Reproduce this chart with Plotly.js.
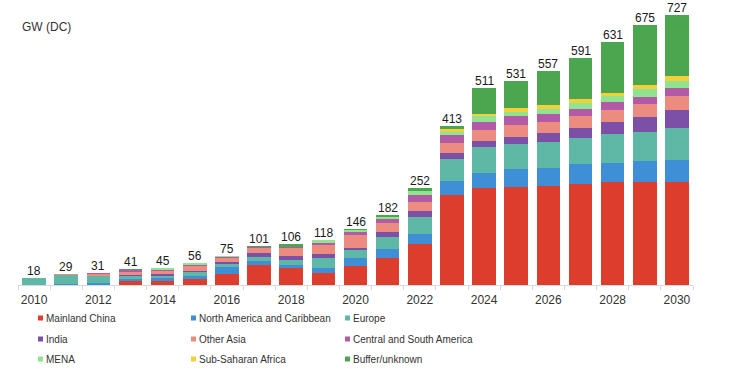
<!DOCTYPE html>
<html><head><meta charset="utf-8">
<script src="https://cdn.plot.ly/plotly-3.0.1.min.js"></script>
<style>html,body{margin:0;padding:0;background:#fff;}#chart{width:735px;height:369px;}</style>
</head><body><div id="chart"></div>
<script>
const years = [2010,2011,2012,2013,2014,2015,2016,2017,2018,2019,2020,2021,2022,2023,2024,2025,2026,2027,2028,2029,2030];
const tickYears = [2010,2012,2014,2016,2018,2020,2022,2024,2026,2028,2030];
const totals = [18,29,31,41,45,56,75,101,106,118,146,182,252,413,511,531,557,591,631,675,727];
const seriesNames = ["Mainland China","North America and Caribbean","Europe","India","Other Asia","Central and South America","MENA","Sub-Saharan Africa","Buffer/unknown"];
const seriesColors = ["#dc3d2d","#3e8fd6","#5fb8a5","#7d50a7","#ec8b80","#b35aa7","#8fe391","#f3cf3b","#4ba64f"];
const mainlandChina = [0,1,1,11,10,16,28,51,43,32,50,70,106,235,253,256,257,262,267,269,269];
const northAmerica  = [1,2,3,4,7,8,19,12,9,11,19,23,26,35,39,45,48,52,51,54,55];
const europe        = [17,23,19,9,7,9,8,10,13,26,22,33,44,58,66,65,68,69,74,76,84];
const india         = [0,0,1,3,4,3,5,10,11,11,4,11,17,16,17,20,23,26,33,39,48];
const otherAsia     = [0,2,5,8,9,13,11,12,19,23,35,23,23,26,29,30,29,30,30,33,35];
const centralSouthAmerica = [0,1,1,3,3,4,2,4,4,7,8,11,17,19,21,23,20,19,20,19,22];
const mena          = [0,0,1,2,4,3,2,1,1,6,5,6,11,9,14,11,13,16,16,19,17];
const subSaharanAfrica = [0,0,0,0,0,0,0,0,0,0,0,0,1,7,5,9,9,9,9,11,13];
const bufferUnknown = [0,0,0,1,1,0,0,1,6,2,3,5,7,8,67,72,90,108,131,155,160];
const seriesValues = [mainlandChina,northAmerica,europe,india,otherAsia,centralSouthAmerica,mena,subSaharanAfrica,bufferUnknown];

const L = 18, B = 84, W = 735, H = 369;
const plotBottomPx = H - B;

const traces = seriesValues.map((vals, i) => ({
  type: 'bar', x: years, y: vals, name: seriesNames[i],
  marker: {color: seriesColors[i], line: {width: 0}},
  showlegend: false, hoverinfo: 'skip'
}));

const stackTops = years.map((_, j) => seriesValues.reduce((s, arr) => s + arr[j], 0));
const annotations = years.map((yr, j) => ({
  x: yr, y: stackTops[j], xref: 'x', yref: 'y', text: String(totals[j]),
  showarrow: false, yanchor: 'bottom', yshift: -2,
  font: {family: 'Liberation Sans, Arial, sans-serif', size: 12, color: '#1a1a1a'}
}));

annotations.push({
  xref: 'paper', yref: 'paper', x: 0, y: 0, xanchor: 'left', yanchor: 'middle',
  xshift: 20 - L, yshift: plotBottomPx - 27, text: 'GW (DC)', showarrow: false,
  font: {family: 'Liberation Sans, Arial, sans-serif', size: 12, color: '#333'}
});

const legendColX = [45, 198, 352];
const legendRowY = [318, 339, 359];
const shapes = [];
seriesNames.forEach((nm, i) => {
  const col = i % 3, row = Math.floor(i / 3);
  const tx = legendColX[col], ty = legendRowY[row];
  annotations.push({
    xref: 'paper', yref: 'paper', x: 0, y: 0, xanchor: 'left', yanchor: 'middle', align: 'left',
    xshift: tx - L - 1, yshift: plotBottomPx - ty, text: nm, showarrow: false,
    font: {family: 'Liberation Sans, Arial, sans-serif', size: 10, color: '#333'}
  });
  shapes.push({
    type: 'rect', xref: 'paper', yref: 'paper',
    xsizemode: 'pixel', ysizemode: 'pixel', xanchor: 0, yanchor: 0,
    x0: tx - 7 - L, x1: tx - 2 - L,
    y0: plotBottomPx - (ty + 2.5), y1: plotBottomPx - (ty - 2.5),
    fillcolor: seriesColors[i], line: {width: 0}
  });
});

const layout = {
  width: W, height: H,
  margin: {l: L, r: 42, t: 0, b: B},
  paper_bgcolor: '#fff', plot_bgcolor: '#fff',
  barmode: 'stack', bargap: 0.27,
  showlegend: false,
  xaxis: {
    type: 'linear', range: [years[0] - 0.5, years[years.length - 1] + 0.5],
    tickmode: 'array', tickvals: tickYears, ticktext: tickYears.map(String),
    ticks: 'outside', ticklen: 4, tickcolor: 'rgba(0,0,0,0)',
    showline: true, linecolor: '#d9d9d9', linewidth: 1,
    showgrid: false, zeroline: false,
    tickfont: {family: 'Liberation Sans, Arial, sans-serif', size: 12, color: '#333'},
    minor: {tickmode: 'array', tickvals: years.concat([years[years.length-1] + 1]).map(y => y - 0.5),
            ticks: 'outside', ticklen: 4, tickcolor: '#d9d9d9', showgrid: false}
  },
  yaxis: {range: [0, 741], visible: false, showgrid: false, zeroline: false, fixedrange: true},
  annotations: annotations,
  shapes: shapes
};

Plotly.newPlot('chart', traces, layout, {displayModeBar: false, staticPlot: true});
</script></body></html>
